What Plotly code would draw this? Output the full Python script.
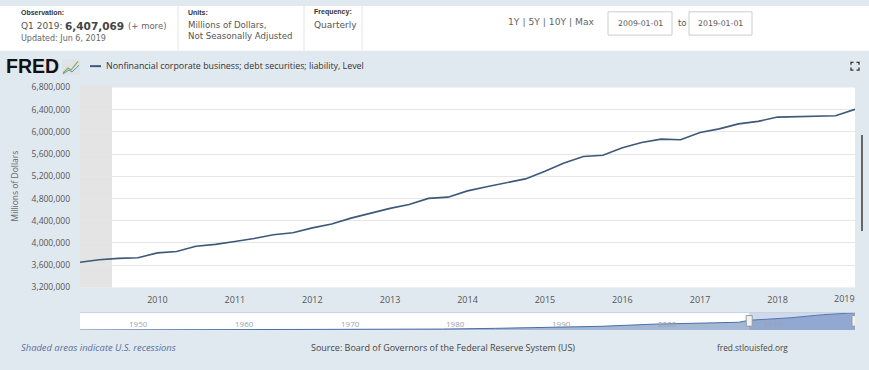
import plotly.graph_objects as go

W, H = 869, 370

# ---------------- data ----------------
dates = [f"{y}-{m:02d}-01" for y in range(2009, 2019) for m in (1, 4, 7, 10)] + ["2019-01-01"]
values = [3653000, 3698000, 3723000, 3733000,
          3821000, 3845000, 3940000, 3974000,
          4026000, 4079000, 4149000, 4184000,
          4272000, 4342000, 4447000, 4540000,
          4623000, 4693000, 4803000, 4825000,
          4938000, 5014000, 5079000, 5154000,
          5290000, 5442000, 5558000, 5580000,
          5714000, 5810000, 5870000, 5860000,
          5990000, 6055000, 6145000, 6190000,
          6267000, 6273000, 6290000, 6290000,
          6407069]

# long history shown in the navigator (coarse readings)
nav_dates = ["1945-10-01", "1950-01-01", "1955-01-01", "1960-01-01", "1965-01-01",
             "1970-01-01", "1975-01-01", "1980-01-01", "1985-01-01", "1990-01-01",
             "1995-01-01", "2000-01-01", "2005-01-01", "2008-01-01"]
nav_values = [25000, 40000, 60000, 80000, 110000,
              180000, 260000, 370000, 640000, 1000000,
              1400000, 2200000, 2600000, 2900000]

recession_start = "2009-01-01"
recession_end = "2009-06-01"

x_years = [str(y) for y in range(2010, 2020)]
y_ticks = [3200000, 3600000, 4000000, 4400000, 4800000, 5200000, 5600000, 6000000, 6400000, 6800000]
nav_years = ["1950", "1960", "1970", "1980", "1990", "2000", "2010"]

LINE = "#3d5879"
BG = "#e1e9f0"
FONT = "Open Sans"
HFONT = "DejaVu Sans"


def px(x):
    return x / W


def py(y):
    return 1 - y / H


fig = go.Figure()

fig.add_trace(go.Scatter(x=dates, y=values, mode="lines",
                         line=dict(color=LINE, width=1.6), xaxis="x", yaxis="y",
                         showlegend=False, hoverinfo="x+y"))

fig.add_trace(go.Scatter(x=nav_dates + dates, y=nav_values + values, mode="lines",
                         line=dict(color="#4a6fa5", width=1), fill="tozeroy",
                         fillcolor="rgba(90,125,180,0.55)", xaxis="x2", yaxis="y2",
                         showlegend=False, hoverinfo="skip"))

shapes = []
annotations = []

# header white band
shapes.append(dict(type="rect", xref="paper", yref="paper", x0=0, x1=1, y0=py(46), y1=1,
                   fillcolor="white", line_width=0, layer="below"))
for sx in (178, 304, 362):
    shapes.append(dict(type="line", xref="paper", yref="paper", x0=px(sx), x1=px(sx),
                       y0=py(46), y1=1, line=dict(color="#e4e4e4", width=1)))

# date input boxes
for x0, x1, txt in ((608, 672, "2009-01-01"), (689, 752, "2019-01-01")):
    shapes.append(dict(type="rect", xref="paper", yref="paper", x0=px(x0), x1=px(x1),
                       y0=py(30), y1=py(6), fillcolor="white", line=dict(color="#cccccc", width=1)))
    annotations.append(dict(xref="paper", yref="paper", x=px((x0 + x1) / 2), y=py(18), text=txt,
                            showarrow=False, xanchor="center", yanchor="middle",
                            font=dict(family=HFONT, size=7.8, color="#555555")))


def text(x, y, s, size, color="#555555", family=HFONT, anchor="left"):
    annotations.append(dict(xref="paper", yref="paper", x=px(x), y=py(y), text=s, showarrow=False,
                            xanchor=anchor, yanchor="middle", font=dict(family=family, size=size, color=color)))


text(19, 6.5, "<b>Observation:</b>", 7, "#333333", "Liberation Sans")
text(19, 20.5, "Q1 2019:", 9)
text(63, 20.5, "<b>6,407,069</b>", 10.5, "#444444")
text(126, 20.5, "(+ more)", 8.5, "#666666")
text(19, 33, "Updated: Jun 6, 2019", 8, "#666666")
text(186, 6.5, "<b>Units:</b>", 7, "#333333", "Liberation Sans")
text(186, 19.5, "Millions of Dollars,", 8.6, "#555555")
text(186, 31, "Not Seasonally Adjusted", 8.6, "#555555")
text(312, 6.5, "<b>Frequency:</b>", 7, "#333333", "Liberation Sans")
text(312, 19.5, "Quarterly", 9, "#555555")
text(506, 16, "1Y | 5Y | 10Y | Max", 9.2, "#666666")
text(676, 18, "to", 8.5, "#555555")

# FRED logo
text(4, 62, "<b>FRED</b>", 19.5, "#111111", "Liberation Sans")
shapes.append(dict(type="rect", xref="paper", yref="paper", x0=px(62), x1=px(80),
                   y0=py(71), y1=py(55), fillcolor="#dfe3e6", line_width=0))
shapes.append(dict(type="path", xref="paper", yref="paper",
                   path=f"M{px(63)},{py(69)} L{px(68)},{py(64)} L{px(71)},{py(66)} L{px(78)},{py(57)}",
                   line=dict(color="#7fb25b", width=1.2)))
shapes.append(dict(type="path", xref="paper", yref="paper",
                   path=f"M{px(63)},{py(70)} L{px(69)},{py(66)} L{px(72)},{py(68)} L{px(79)},{py(61)}",
                   line=dict(color="#6a8fbf", width=1)))

# legend
shapes.append(dict(type="line", xref="paper", yref="paper", x0=px(90), x1=px(101), y0=py(62), y1=py(62),
                   line=dict(color=LINE, width=2)))
text(104, 62, "Nonfinancial corporate business; debt securities; liability, Level", 8.85, "#333333", FONT)

# expand icon
ex0, ey0, ex1, ey1, c = 851, 58, 859, 66, 2.5
path = (f"M{px(ex0)},{py(ey0 + c)} L{px(ex0)},{py(ey0)} L{px(ex0 + c)},{py(ey0)} "
        f"M{px(ex1 - c)},{py(ey0)} L{px(ex1)},{py(ey0)} L{px(ex1)},{py(ey0 + c)} "
        f"M{px(ex1)},{py(ey1 - c)} L{px(ex1)},{py(ey1)} L{px(ex1 - c)},{py(ey1)} "
        f"M{px(ex0 + c)},{py(ey1)} L{px(ex0)},{py(ey1)} L{px(ex0)},{py(ey1 - c)}")
shapes.append(dict(type="path", xref="paper", yref="paper", path=path, line=dict(color="#333333", width=1.3)))

# recession shading
shapes.append(dict(type="rect", xref="x", yref="paper", x0=recession_start, x1=recession_end,
                   y0=py(290), y1=py(82), fillcolor="#e4e4e4", line_width=0, layer="below"))

# scrollbar-like bar on right
shapes.append(dict(type="line", xref="paper", yref="paper", x0=px(862), x1=px(862), y0=py(133), y1=py(232),
                   line=dict(color="#666666", width=2)))

# navigator mask and outline
shapes.append(dict(type="rect", xref="x2", yref="paper", x0=dates[0], x1=dates[-1],
                   y0=py(334), y1=py(316), fillcolor="rgba(102,133,194,0.3)", line_width=0))
shapes.append(dict(type="line", xref="paper", yref="paper", x0=px(80), x1=px(855), y0=py(316), y1=py(316),
                   line=dict(color="#c8d2dc", width=1)))
for d in (dates[0], dates[-1]):
    shapes.append(dict(type="rect", xref="x2", yref="paper", xsizemode="pixel", xanchor=d,
                       x0=-3, x1=3, y0=py(330), y1=py(319), fillcolor="#f2f2f2",
                       line=dict(color="#999999", width=1)))
for yr in nav_years:
    annotations.append(dict(xref="x2", yref="paper", x=f"{yr}-01-01", y=py(327), text=yr, showarrow=False,
                            xanchor="left", xshift=2, yanchor="middle",
                            font=dict(family=FONT, size=8, color="#9aa4ae")))

# last x label kept inside the plot edge
annotations.append(dict(xref="x", yref="paper", x=f"{x_years[-1]}-01-01", y=py(301.5), text=x_years[-1],
                        showarrow=False, xanchor="right", xshift=2, yanchor="middle",
                        font=dict(family=FONT, size=9, color="#555555")))

# y-axis title
annotations.append(dict(xref="paper", yref="paper", x=px(14), y=py(186), text="Millions of Dollars",
                        showarrow=False, textangle=-90, xanchor="center", yanchor="middle",
                        font=dict(family=FONT, size=8.5, color="#666666")))

# footer
text(19, 352, "<i>Shaded areas indicate U.S. recessions</i>", 9.4, "#55709a", FONT)
text(309, 352, "Source: Board of Governors of the Federal Reserve System (US)", 9.0, "#444444", FONT)
text(715, 352, "fred.stlouisfed.org", 8.3, "#444444", FONT)

fig.update_layout(
    width=W, height=H, margin=dict(l=0, r=0, t=0, b=0),
    paper_bgcolor=BG, plot_bgcolor="white",
    xaxis=dict(domain=[px(80), px(855)], range=["2009-01-01", "2019-01-01"], type="date",
               tickvals=[f"{y}-01-01" for y in x_years],
               ticktext=x_years[:-1] + [""],
               showgrid=False, zeroline=False, showline=False, ticks="",
               tickfont=dict(family=FONT, size=9, color="#555555"), ticklabelstandoff=6,
               anchor="y"),
    yaxis=dict(domain=[py(290), py(84)], range=[3200000, 6800000], tickvals=y_ticks,
               ticktext=[f"{v:,}" for v in y_ticks],
               showgrid=True, gridcolor="#e6e6e6", gridwidth=1, zeroline=False, showline=False, ticks="",
               tickfont=dict(family=FONT, size=8.5, color="#555555"), ticklabelstandoff=9,
               anchor="x"),
    xaxis2=dict(domain=[px(80), px(855)], range=["1945-10-01", "2019-01-01"], type="date",
                showticklabels=False, showgrid=False, zeroline=False, showline=False, ticks="",
                anchor="y2"),
    yaxis2=dict(domain=[py(334), py(316)], range=[0, 6500000], showticklabels=False,
                showgrid=False, zeroline=False, showline=False, ticks="", anchor="x2"),
    shapes=shapes, annotations=annotations, hovermode=False,
)

fig.write_html("out.html", config={"displayModeBar": False},
               post_script="document.body.style.margin='0';document.body.style.overflow='hidden';")
